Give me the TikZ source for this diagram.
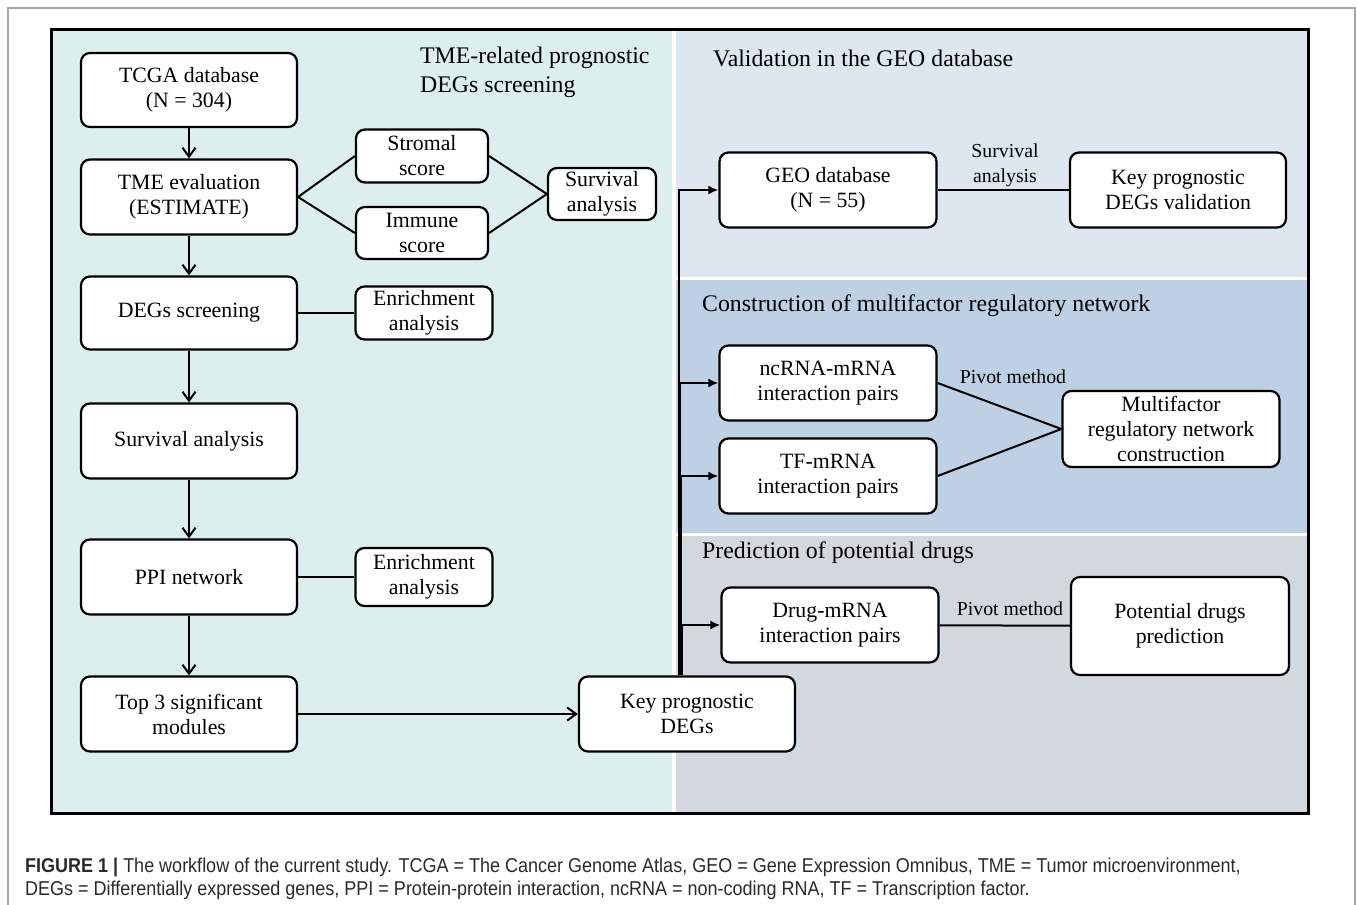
\documentclass[tikz,border=0pt]{standalone}
\usepackage{fontspec}
\setmainfont{Liberation Serif}
\newfontfamily\capfont[FakeStretch=0.9]{Liberation Sans}
\usetikzlibrary{arrows.meta,calc}
\definecolor{tealbg}{HTML}{DCEFEC}
\definecolor{topbg}{HTML}{DEE6EF}
\definecolor{midbg}{HTML}{BDD0E4}
\definecolor{botbg}{HTML}{D3D7DE}
\definecolor{capcol}{HTML}{2A2A2A}
\tikzset{
  box/.style={draw, line width=2.2pt, rounded corners=9pt, fill=white, align=center,
    inner sep=0pt, font=\fontsize{21.8}{25}\selectfont},
  conn/.style={line width=2pt},
  openarr/.style={line width=2pt, -{Straight Barb[length=9pt,width=13pt,line width=2pt]}},
  fillarr/.style={line width=2pt, -{Latex[length=10pt,width=9pt]}},
  ttl/.style={anchor=west, align=left, inner sep=0pt, font=\fontsize{23.8}{29}\selectfont},
  lbl/.style={inner sep=0pt, align=center, font=\fontsize{19.8}{25}\selectfont},
  captxt/.style={anchor=base west, inner sep=0pt, text=capcol, font=\capfont\fontsize{20}{23}\selectfont}
}
\begin{document}
\begin{tikzpicture}[x=1pt,y=-1pt]
\useasboundingbox (0,0) rectangle (1358,905);
% outer figure frame
\draw[gray!70, line width=1.2pt] (8,905) -- (8,8) -- (1355,8) -- (1355,905);
% panels
\fill[tealbg] (51,29) rectangle (672,813);
\fill[topbg] (676,29) rectangle (1309,277);
\fill[midbg] (676,280) rectangle (1309,533);
\fill[botbg] (676,536) rectangle (1309,813);
\draw[line width=3pt] (51.5,29.5) rectangle (1308.5,813.5);
% titles
\node[ttl] (t1) at (420,72) {TME-related prognostic\\DEGs screening};
\node[ttl] (t2) at (713,58) {Validation in the GEO database};
\node[ttl] (t3) at (702,306) {Construction of multifactor regulatory network};
\node[ttl] (t4) at (702,553) {Prediction of potential drugs};
% left column
\node[box, minimum width=216pt, minimum height=74pt] (tcga) at (189,90) {TCGA database\\(N = 304)};
\node[box, minimum width=216pt, minimum height=75pt] (tme) at (189,197) {TME evaluation\\(ESTIMATE)};
\node[box, minimum width=132pt, minimum height=53pt] (strom) at (422,156) {Stromal\\score};
\node[box, minimum width=132pt, minimum height=52pt] (immune) at (422,233) {Immune\\score};
\node[box, minimum width=108pt, minimum height=52pt] (surv1) at (602,194) {Survival\\analysis};
\node[box, minimum width=216pt, minimum height=73pt] (degs) at (189,313) {DEGs screening};
\node[box, minimum width=137pt, minimum height=53pt] (enr1) at (424,313) {Enrichment\\analysis};
\node[box, minimum width=216pt, minimum height=75pt] (surv2) at (189,441) {Survival analysis};
\node[box, minimum width=216pt, minimum height=75pt] (ppi) at (189,577) {PPI network};
\node[box, minimum width=137pt, minimum height=58pt] (enr2) at (424,577) {Enrichment\\analysis};
\node[box, minimum width=216pt, minimum height=75pt] (top3) at (189,714) {Top 3 significant\\modules};
\node[box, minimum width=216pt, minimum height=75pt] (key) at (687,714) {Key prognostic\\DEGs};
% right side
\node[box, minimum width=217pt, minimum height=75pt] (geo) at (828,190) {GEO database\\(N = 55)};
\node[box, minimum width=216pt, minimum height=75pt] (keyval) at (1178,190) {Key prognostic\\DEGs validation};
\node[box, minimum width=217pt, minimum height=75pt] (ncrna) at (828,383) {ncRNA-mRNA\\interaction pairs};
\node[box, minimum width=217pt, minimum height=75pt] (tf) at (828,476) {TF-mRNA\\interaction pairs};
\node[box, minimum width=217pt, minimum height=76pt] (multi) at (1171,429) {Multifactor\\regulatory network\\construction};
\node[box, minimum width=217pt, minimum height=75pt] (drug) at (830,625) {Drug-mRNA\\interaction pairs};
\node[box, minimum width=218pt, minimum height=98pt] (pot) at (1180,626) {Potential drugs\\prediction};
% left connectors
\draw[openarr] (tcga) -- (tme);
\draw[openarr] (tme) -- (degs);
\draw[openarr] (degs) -- (surv2);
\draw[openarr] (surv2) -- (ppi);
\draw[openarr] (ppi) -- (top3);
\draw[conn] (strom.west) -- (tme.east) -- (immune.west);
\draw[conn] (strom.east) -- (surv1.west) -- (immune.east);
\draw[conn] (degs) -- (enr1);
\draw[conn, line width=2.6pt] (ppi) -- (enr2);
\draw[openarr] (top3) -- (key);
% trunk to the right
\draw[fillarr] ([xshift=-8pt]key.north) |- (geo.west);
\draw[fillarr] ([xshift=-7pt]key.north) |- (ncrna.west);
\draw[fillarr] ([xshift=-6pt]key.north) |- (tf.west);
\draw[fillarr] ([xshift=-5pt]key.north) |- (drug.west);
% right connectors
\draw[conn] (geo) -- (keyval);
\node[lbl] (lsurv) at (1005,165) {Survival\\analysis};
\draw[conn] (ncrna.east) -- (multi.west) -- (tf.east);
\node[lbl] (lpiv1) at (1013,377) {Pivot method};
\draw[conn] (drug) -- (pot);
\node[lbl] (lpiv2) at (1010,609) {Pivot method};
% caption
\node[captxt] (cap1) at (25,872) {\textbf{FIGURE 1} \textbf{|} The workflow of the current study. TCGA = The Cancer Genome Atlas, GEO = Gene Expression Omnibus, TME = Tumor microenvironment,};
\node[captxt] (cap2) at (25,895) {DEGs = Differentially expressed genes, PPI = Protein-protein interaction, ncRNA = non-coding RNA, TF = Transcription factor.};
\end{tikzpicture}
\end{document}
